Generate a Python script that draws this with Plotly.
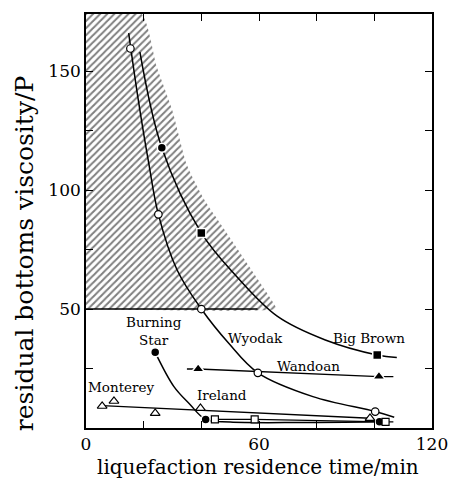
import plotly.graph_objects as go

# ---- data ----
# hatched region boundary (x, y)
hatch_x = [0, 19.2, 24.5, 29.9, 35.0, 41.0, 47.4, 56.8, 65.9, 66.0, 0]
hatch_y = [174, 174, 152, 133.6, 110.5, 96.0, 84.5, 67.6, 50.8, 50.0, 50]
limit_x = [0, 59.5]
limit_y = [50, 50]

# Wyodak (open circles)
wyodak_x = [15.4, 25.1, 40.0, 59.6, 100.3]
wyodak_y = [159.5, 89.8, 50.0, 23.2, 6.9]
wyodak_fit_x = [14.8, 18.0, 21.8, 25.1, 31.6, 40.0, 49.5, 59.6, 78.7, 100.3, 106.9]
wyodak_fit_y = [166, 139, 111, 89.8, 66.4, 50.0, 35.6, 23.2, 13.2, 6.9, 4.5]

# Big Brown (filled circle / filled squares)
bigbrown_x = [26.3, 40.0, 101.0]
bigbrown_y = [117.8, 82.0, 30.7]
bigbrown_sym = ["circle", "square", "square"]
bigbrown_fit_x = [18.7, 26.3, 40.0, 52.0, 66.3, 83.0, 101.0, 107.8]
bigbrown_fit_y = [158.0, 117.8, 82.0, 64.0, 47.0, 37.0, 30.7, 29.6]

# Wandoan (filled triangles)
wandoan_x = [38.9, 101.6]
wandoan_y = [24.8, 21.6]
wandoan_fit_x = [35.0, 38.9, 101.6, 106.6]
wandoan_fit_y = [24.8, 24.8, 21.6, 21.6]

# Burning Star (filled circles)
burning_x = [24.0, 41.5, 101.8]
burning_y = [31.8, 3.6, 2.6]
burning_fit_x = [24.0, 30.5, 36.0, 41.5, 50.0, 75.0, 101.8]
burning_fit_y = [31.8, 17.4, 10.0, 3.6, 2.5, 2.3, 2.6]

# Ireland (open squares)
ireland_x = [44.7, 58.5, 103.9]
ireland_y = [3.6, 3.6, 2.6]
ireland_fit_x = [44.7, 58.5, 103.9, 106.6]
ireland_fit_y = [3.6, 3.6, 2.6, 2.6]

# Monterey (open triangles)
monterey_x = [5.6, 9.7, 24.0, 39.7, 98.5]
monterey_y = [9.2, 11.3, 6.2, 8.3, 4.1]
monterey_fit_x = [5.6, 98.5]
monterey_fit_y = [9.4, 4.1]

labels = ["Burning<br>Star", "Wyodak", "Big Brown", "Wandoan", "Monterey", "Ireland"]
label_x = [23.7, 58.7, 98.0, 77.0, 12.3, 47.2]
label_y = [40.8, 37.8, 37.8, 26.0, 17.2, 13.9]

x_tickvals = [0, 20, 40, 60, 80, 100, 120]
x_ticktext = ["0", "", "", "60", "", "", "120"]
y_tickvals = [0, 25, 50, 75, 100, 125, 150]
y_ticktext = ["", "", "50", "", "100", "", "150"]

FONT = "DejaVu Serif"

fig = go.Figure()

fig.add_trace(go.Scatter(
    x=hatch_x, y=hatch_y, mode="lines", fill="toself",
    fillcolor="rgba(0,0,0,0)", line=dict(width=0, shape="spline", smoothing=0.6),
    fillpattern=dict(shape="/", fgcolor="black", bgcolor="white", size=5, solidity=0.4),
    hoverinfo="skip"))
fig.add_trace(go.Scatter(x=limit_x, y=limit_y, mode="lines",
                         line=dict(color="black", width=1.6)))

def curve(x, y):
    fig.add_trace(go.Scatter(x=x, y=y, mode="lines",
                             line=dict(color="black", width=1.5, shape="spline", smoothing=1.0)))

def straight(x, y):
    fig.add_trace(go.Scatter(x=x, y=y, mode="lines",
                             line=dict(color="black", width=1.3)))

curve(wyodak_fit_x, wyodak_fit_y)
curve(bigbrown_fit_x, bigbrown_fit_y)
straight(wandoan_fit_x, wandoan_fit_y)
curve(burning_fit_x, burning_fit_y)
straight(ireland_fit_x, ireland_fit_y)
straight(monterey_fit_x, monterey_fit_y)

def markers(x, y, symbol, filled, size=7):
    if filled:
        m = dict(symbol=symbol, size=size, color="black", line=dict(color="white", width=1.5))
    else:
        m = dict(symbol=symbol, size=size, color="white", line=dict(color="black", width=1.2))
    fig.add_trace(go.Scatter(x=x, y=y, mode="markers", marker=m))

markers(wyodak_x, wyodak_y, "circle", False, 7.5)
markers(bigbrown_x, bigbrown_y, bigbrown_sym, True, 9)
markers(wandoan_x, wandoan_y, "triangle-up", True, 11)
markers(burning_x, burning_y, "circle", True, 9)
markers(ireland_x, ireland_y, "square", False, 7)
markers(monterey_x, monterey_y, "triangle-up", False, 8.5)

for t, lx, ly in zip(labels, label_x, label_y):
    fig.add_annotation(x=lx, y=ly, text=t, showarrow=False,
                       xanchor="center", yanchor="middle",
                       font=dict(family=FONT, size=13.5, color="black"))

fig.add_annotation(xref="paper", yref="paper", x=0.497, y=-0.095,
                   xanchor="center", yanchor="middle",
                   text="liquefaction residence time/min", showarrow=False,
                   font=dict(family=FONT, size=20, color="black"))
fig.add_annotation(xref="paper", yref="paper", x=-0.179, y=0.42, textangle=-90,
                   xanchor="center", yanchor="middle",
                   text="residual bottoms viscosity/P", showarrow=False,
                   font=dict(family=FONT, size=25, color="black"))

axis_common = dict(showgrid=False, zeroline=False, showline=True, linecolor="black",
                   linewidth=1.6, mirror="ticks", ticks="inside", ticklen=7,
                   tickcolor="black", tickwidth=1.3,
                   tickfont=dict(family=FONT, size=17, color="black"))
fig.update_xaxes(range=[0, 120], tickmode="array", tickvals=x_tickvals,
                 ticktext=x_ticktext, **axis_common)
fig.update_yaxes(range=[0, 174], tickmode="array", tickvals=y_tickvals,
                 ticktext=y_ticktext, **axis_common)

fig.update_layout(width=460, height=478, autosize=False, showlegend=False,
                  margin=dict(l=86, r=17, t=14, b=50),
                  plot_bgcolor="white", paper_bgcolor="white")

fig.write_html("out.html")
